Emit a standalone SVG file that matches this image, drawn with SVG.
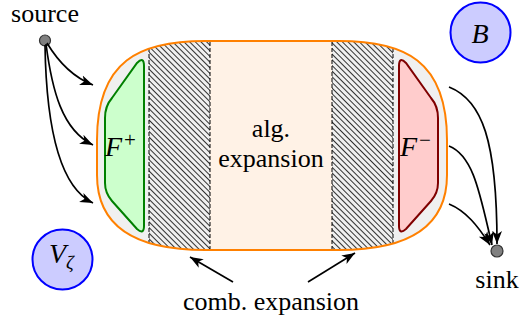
<svg xmlns="http://www.w3.org/2000/svg" width="527" height="321" viewBox="0 0 527 321">
<style>
text{font-family:"Liberation Serif","Times New Roman",serif;fill:#000}
.lbl{font-size:26px}
.math{font-style:italic;font-size:28px}
.conn{fill:none;stroke:#000;stroke-width:1.7}
.dash{stroke:#000;stroke-width:1;stroke-dasharray:4 2}
.circ{fill:#ccccff;stroke:#0000ff;stroke-width:2}
.dot{fill:#808080;stroke:#333;stroke-width:1.2}
</style>
<defs>
<marker id="ah" markerUnits="userSpaceOnUse" markerWidth="14" markerHeight="12" refX="13" refY="6" orient="auto">
<path d="M0,1 L13,6 L0,11 L3.5,6 Z" fill="#000"/>
</marker>
<pattern id="hatch" width="4" height="4" patternUnits="userSpaceOnUse" patternTransform="rotate(-45)">
<line x1="0.5" y1="0" x2="0.5" y2="4" stroke="#000" stroke-width="0.8"/>
</pattern>
<clipPath id="oclip"><path d="M205,41 L339,41 C404,41 447,60 447,140 L447,175 C447,230 404,250 339,250 L205,250 C140,250 97,230 97,175 L97,140 C97,60 140,41 205,41 Z"/></clipPath>
</defs>
<g id="region">
<path d="M205,41 L339,41 C404,41 447,60 447,140 L447,175 C447,230 404,250 339,250 L205,250 C140,250 97,230 97,175 L97,140 C97,60 140,41 205,41 Z" fill="#f0f0f0"/>
<g clip-path="url(#oclip)">
<rect x="210" y="30" width="122" height="230" fill="#fff2e6"/>
<rect x="149" y="30" width="61" height="230" fill="url(#hatch)"/>
<rect x="332" y="30" width="61" height="230" fill="url(#hatch)"/>
<line class="dash" x1="149" y1="30" x2="149" y2="260"/>
<line class="dash" x1="210" y1="30" x2="210" y2="260"/>
<line class="dash" x1="332" y1="30" x2="332" y2="260"/>
<line class="dash" x1="393" y1="30" x2="393" y2="260"/>
</g>
<path d="M205,41 L339,41 C404,41 447,60 447,140 L447,175 C447,230 404,250 339,250 L205,250 C140,250 97,230 97,175 L97,140 C97,60 140,41 205,41 Z" fill="none" stroke="#ff8000" stroke-width="2"/>
<text class="lbl" x="271" y="137" text-anchor="middle">alg.</text>
<text class="lbl" x="271" y="167" text-anchor="middle">expansion</text>
</g>
<g id="Fplus">
<path d="M144,66 L144,226 Q144,235 137,229 L112,201 Q105,193 105,183 L105,118 Q105,106 112,98 L137,63 Q144,56 144,66 Z" fill="#ccffcc" stroke="#008000" stroke-width="2"/>
<text x="105" y="156" class="math">F<tspan font-size="21" font-style="normal" dx="2" dy="-9">+</tspan></text>
</g>
<g id="Fminus">
<path d="M399,66 L399,226 Q399,235 406,229 L431,201 Q438,193 438,183 L438,118 Q438,106 431,98 L406,63 Q399,56 399,66 Z" fill="#ffcccc" stroke="#800000" stroke-width="2"/>
<text x="400" y="156" class="math">F<tspan font-size="21" font-style="normal" dx="2" dy="-9">−</tspan></text>
</g>
<g id="B">
<circle class="circ" cx="480.5" cy="32.5" r="30"/>
<text x="480" y="43" class="math" text-anchor="middle">B</text>
</g>
<g id="Vzeta">
<circle class="circ" cx="62.5" cy="259.5" r="30"/>
<text x="49" y="263" class="math">V<tspan font-size="19" dy="6">ζ</tspan></text>
</g>
<g id="source">
<circle class="dot" cx="45" cy="40.5" r="5.5"/>
<text class="lbl" x="45" y="22" text-anchor="middle">source</text>
</g>
<g id="sink">
<circle class="dot" cx="497" cy="251" r="6"/>
<text class="lbl" x="497" y="288" text-anchor="middle">sink</text>
</g>
<g id="comb">
<text class="lbl" x="271" y="310" text-anchor="middle">comb. expansion</text>
</g>
<g id="connectors">
<path class="conn" marker-end="url(#ah)" d="M47,43 C56,58 70,76 93,85"/>
<path class="conn" marker-end="url(#ah)" d="M46,44 C52,90 62,130 93,145"/>
<path class="conn" marker-end="url(#ah)" d="M45,45 C46,110 55,185 93,203"/>
<path class="conn" marker-end="url(#ah)" d="M449,87 C482,100 497,140 497,244"/>
<path class="conn" marker-end="url(#ah)" d="M449,146 C474,156 480,195 492,245"/>
<path class="conn" marker-end="url(#ah)" d="M449,204 C466,211 478,226 490,245"/>
<path class="conn" marker-end="url(#ah)" d="M233,282 L190,257"/>
<path class="conn" marker-end="url(#ah)" d="M308,282 L355,253"/>
</g>
</svg>
